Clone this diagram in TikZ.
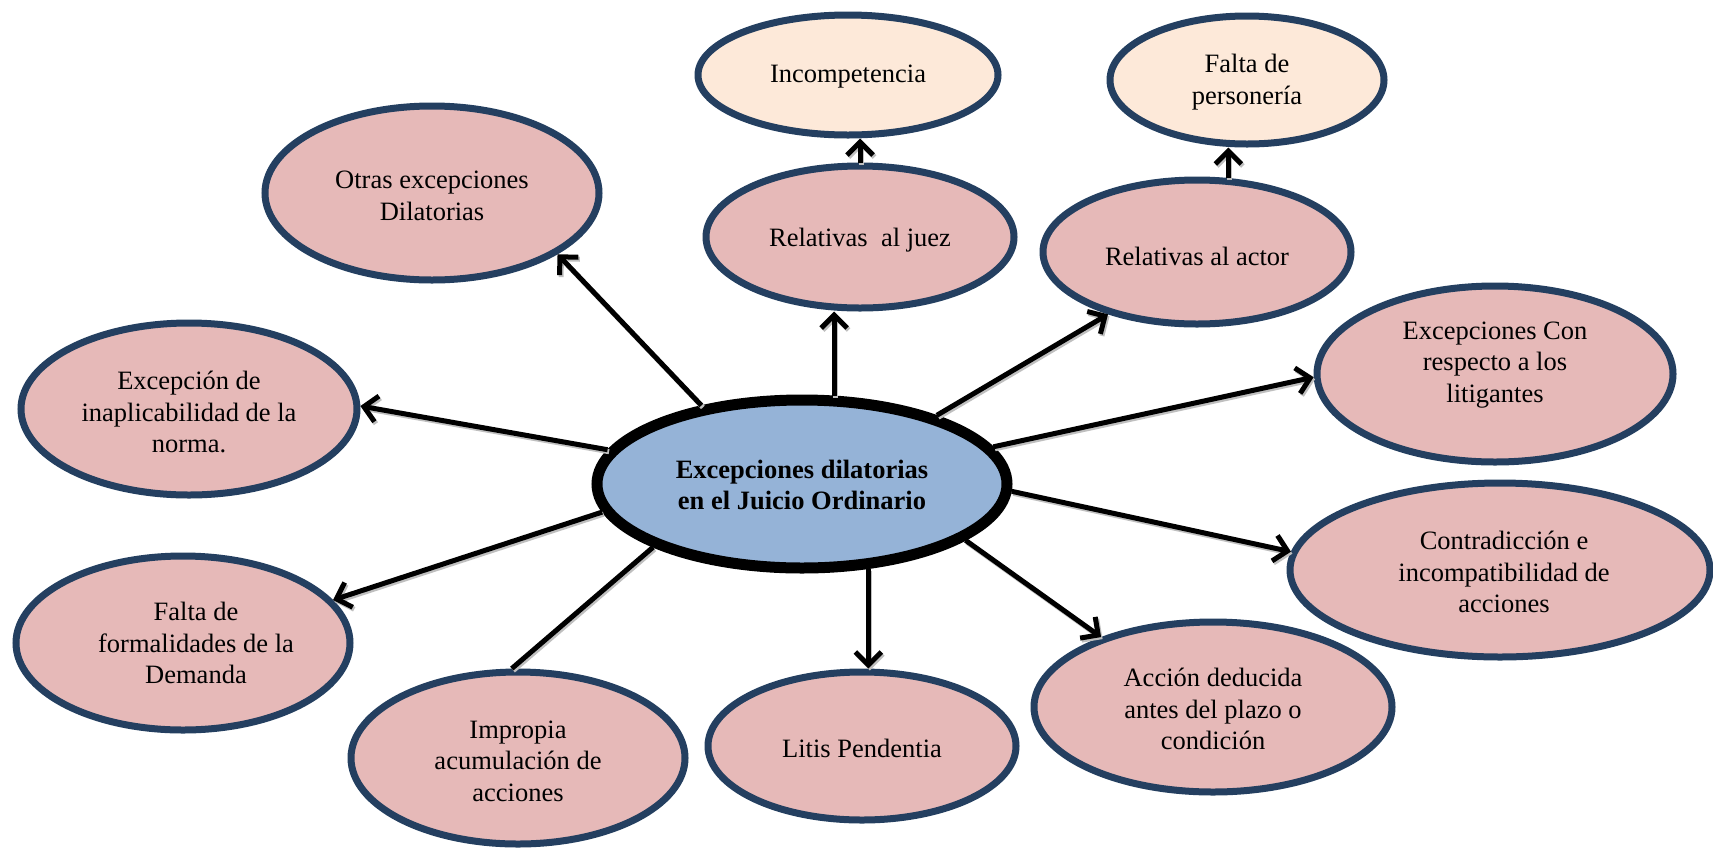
\documentclass[tikz,border=0pt]{standalone}
\usepackage{fontspec}
\setmainfont{Liberation Serif}
\usetikzlibrary{arrows.meta,shapes.geometric}
\definecolor{pinkfill}{HTML}{E6B9B8}
\definecolor{navy}{HTML}{243F60}
\definecolor{peach}{HTML}{FDE9D9}
\definecolor{blufill}{HTML}{95B3D7}
\begin{document}
\begin{tikzpicture}[x=1pt,y=-1pt,
  ell/.style={ellipse, draw=navy, line width=7pt, fill=pinkfill, inner sep=0pt},
  lbl/.style={align=center, font=\fontsize{26.5}{31.5}\selectfont, text=black, inner sep=0pt},
  conn/.style={line width=5pt, -{Straight Barb[length=13pt,width=26pt]},
    preaction={draw=black!25, line width=5pt, transform canvas={shift={(1.5pt,-2pt)}}}},
  plain/.style={line width=5pt,
    preaction={draw=black!25, line width=5pt, transform canvas={shift={(1.5pt,-2pt)}}}}]
\path[use as bounding box, fill=white] (0,0) rectangle (1713,847);

% ellipses
\node[ell, line width=11pt, draw=black, fill=blufill, minimum width=410pt, minimum height=168pt] (c) at (802,484) {};
\node[ell, fill=peach, minimum width=300pt, minimum height=120pt] (incomp) at (848,75) {};
\node[ell, fill=peach, minimum width=274pt, minimum height=128pt] (pers) at (1247,80) {};
\node[ell, minimum width=334pt, minimum height=174pt] (otras) at (432,193) {};
\node[ell, minimum width=308pt, minimum height=142pt] (juez) at (860,237) {};
\node[ell, minimum width=308pt, minimum height=144pt] (actor) at (1197,252) {};
\node[ell, minimum width=356pt, minimum height=176pt] (conres) at (1495,374) {};
\node[ell, minimum width=420pt, minimum height=174pt] (contra) at (1500,570) {};
\node[ell, minimum width=358pt, minimum height=170pt] (accion) at (1213,707) {};
\node[ell, minimum width=308pt, minimum height=148pt] (litis) at (862,746) {};
\node[ell, minimum width=334pt, minimum height=172pt] (impropia) at (518,758) {};
\node[ell, minimum width=334pt, minimum height=174pt] (formal) at (183,643) {};
\node[ell, minimum width=336pt, minimum height=172pt] (inap) at (189,409) {};

% texts
\node[lbl] (tc) at (802,485) {\textbf{Excepciones dilatorias}\\\textbf{en el Juicio Ordinario}};
\node[lbl] (tincomp) at (848,77) {Incompetencia};
\node[lbl] (tpers) at (1247,82) {Falta de\\personería};
\node[lbl] (totras) at (432,196) {Otras excepciones\\Dilatorias};
\node[lbl] (tjuez) at (860,240) {Relativas\ \ al juez};
\node[lbl] (tactor) at (1197,256) {Relativas al actor};
\node[lbl] (tconres) at (1495,365) {Excepciones Con\\respecto a los\\litigantes};
\node[lbl] (tcontra) at (1504,572) {Contradicción e\\incompatibilidad de\\acciones};
\node[lbl] (taccion) at (1213,709) {Acción deducida\\antes del plazo o\\condición};
\node[lbl] (tlitis) at (862,748) {Litis Pendentia};
\node[lbl] (timpropia) at (518,761) {Impropia\\acumulación de\\acciones};
\node[lbl] (tformal) at (196,643) {Falta de\\formalidades de la\\Demanda};
\node[lbl] (tinap) at (189,412) {Excepción de\\inaplicabilidad de la\\norma.};

% connectors
\draw[conn] (c.142.2) -- (otras.-26.7);
\draw[conn] (c.70) -- (c.70 |- juez.south);
\draw[conn] (juez.north) -- (juez.north |- incomp.south);
\draw[conn] (actor.67) -- (actor.67 |- pers.south);
\draw[conn] (c.27.7) -- (actor.-145);
\draw[conn] (c.11.1) -- (conres.181.6);
\draw[conn] (c.-2.1) -- (contra.175.1);
\draw[conn] (c.-19.4) -- (accion.148.7);
\draw[conn] (c.-52.7) -- (c.-52.7 |- litis.north);
\draw[plain] (c.-157.5) -- (impropia.94.5);
\draw[conn] (c.188.1) -- (formal.16.1);
\draw[conn] (c.170.7) -- (inap.1);
\end{tikzpicture}
\end{document}
